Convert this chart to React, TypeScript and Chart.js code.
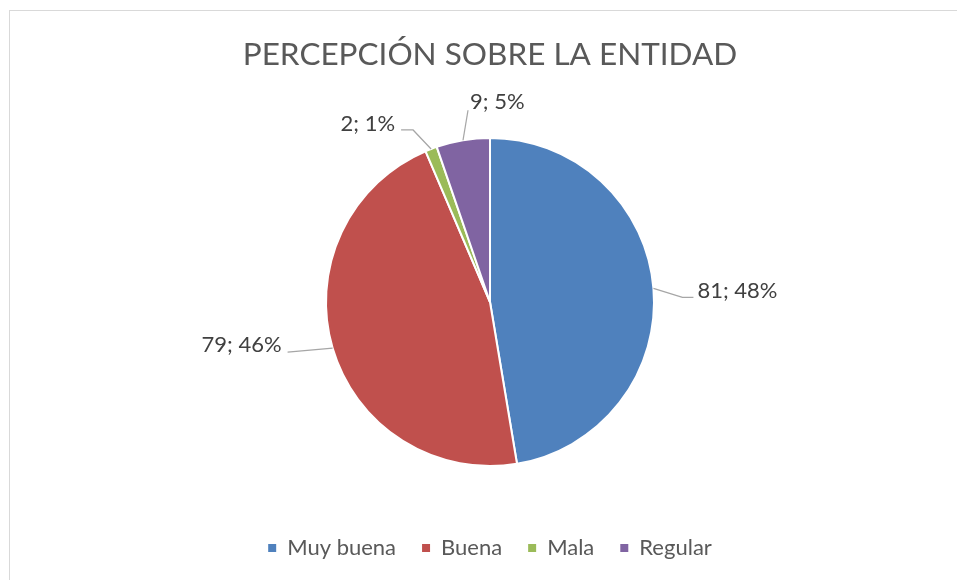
import React, { useEffect, useRef } from 'react';
import { Chart, registerables } from 'chart.js';

Chart.register(...registerables);

const chartTitle = 'PERCEPCIÓN SOBRE LA ENTIDAD';
const categories = ['Muy buena', 'Buena', 'Mala', 'Regular'];
const values = [81, 79, 2, 9];
const percentLabels = ['48%', '46%', '1%', '5%'];
const colors = ['#4F81BD', '#C0504D', '#9BBB59', '#8064A2'];

const FONT = 'Lato, "Open Sans", sans-serif';

// leader-line styling per slice, offsets relative to the slice's outer mid point
const leaderLayout = [
  { elbow: [29, 9], end: [40, 9], align: 'left', textDx: 4, textDy: -7 },
  { elbow: null, end: [-45, 4], align: 'right', textDx: -6, textDy: -7.5 },
  { elbow: [-18, -19], end: [-30, -19], align: 'right', textDx: -6, textDy: -6 },
  { elbow: null, end: [5, -30], align: 'left', textDx: 2, textDy: -8 },
];

const labelPlugin = {
  id: 'sliceLabels',
  afterDatasetsDraw(chart: any) {
    const { ctx } = chart;
    const meta = chart.getDatasetMeta(0);
    ctx.save();
    meta.data.forEach((arc: any, i: number) => {
      const { x, y, startAngle, endAngle, outerRadius } = arc.getProps(
        ['x', 'y', 'startAngle', 'endAngle', 'outerRadius'],
        true
      );
      const mid = (startAngle + endAngle) / 2;
      const ex = x + Math.cos(mid) * outerRadius;
      const ey = y + Math.sin(mid) * outerRadius;
      const L = leaderLayout[i];
      ctx.beginPath();
      ctx.strokeStyle = '#A6A6A6';
      ctx.lineWidth = 1.25;
      ctx.moveTo(ex, ey);
      if (L.elbow) ctx.lineTo(ex + L.elbow[0], ey + L.elbow[1]);
      const endX = ex + L.end[0];
      const endY = ey + L.end[1];
      ctx.lineTo(endX, endY);
      ctx.stroke();
      ctx.fillStyle = '#404040';
      ctx.font = `22px ${FONT}`;
      ctx.textAlign = L.align;
      ctx.textBaseline = 'middle';
      ctx.fillText(`${values[i]}; ${percentLabels[i]}`, endX + L.textDx, endY + L.textDy);
    });
    ctx.restore();
  },
};

export default function App() {
  const canvasRef = useRef<HTMLCanvasElement | null>(null);

  useEffect(() => {
    if (!canvasRef.current) return;
    const chart = new Chart(canvasRef.current, {
      type: 'pie',
      data: {
        labels: categories,
        datasets: [
          {
            data: values,
            backgroundColor: colors,
            borderColor: '#FFFFFF',
            borderWidth: 2,
            radius: 164,
          } as any,
        ],
      },
      options: {
        responsive: false,
        animation: false,
        layout: { padding: { left: 23, right: 0, top: 0, bottom: 11 } },
        plugins: {
          title: {
            display: true,
            text: chartTitle,
            color: '#595959',
            font: { family: FONT, size: 31.5, weight: 'normal', lineHeight: 1.2 },
            padding: { top: 36.1, bottom: 19.1 },
          },
          legend: {
            display: true,
            position: 'bottom',
            labels: {
              color: '#595959',
              font: { family: FONT, size: 22 },
              boxWidth: 8,
              boxHeight: 8,
              padding: 26,
              generateLabels: (c: any) => {
                const base = (Chart as any).overrides.pie.plugins.legend.labels.generateLabels(c);
                return base.map((it: any) => ({ ...it, lineWidth: 0, strokeStyle: it.fillStyle }));
              },
            },
          },
          tooltip: { enabled: false },
        },
      },
      plugins: [labelPlugin],
    });
    return () => chart.destroy();
  }, []);

  return (
    <div
      style={{
        position: 'absolute',
        left: 0,
        top: 0,
        width: 957,
        height: 580,
        overflow: 'hidden',
        background: '#FFFFFF',
      }}
    >
      <div
        style={{
          position: 'absolute',
          left: 9,
          top: 10,
          width: 1000,
          height: 1000,
          border: '1px solid #D9D9D9',
        }}
      />
      <canvas
        ref={canvasRef}
        width={957}
        height={580}
        style={{ position: 'absolute', left: 0, top: 0, width: 957, height: 580 }}
      />
    </div>
  );
}
